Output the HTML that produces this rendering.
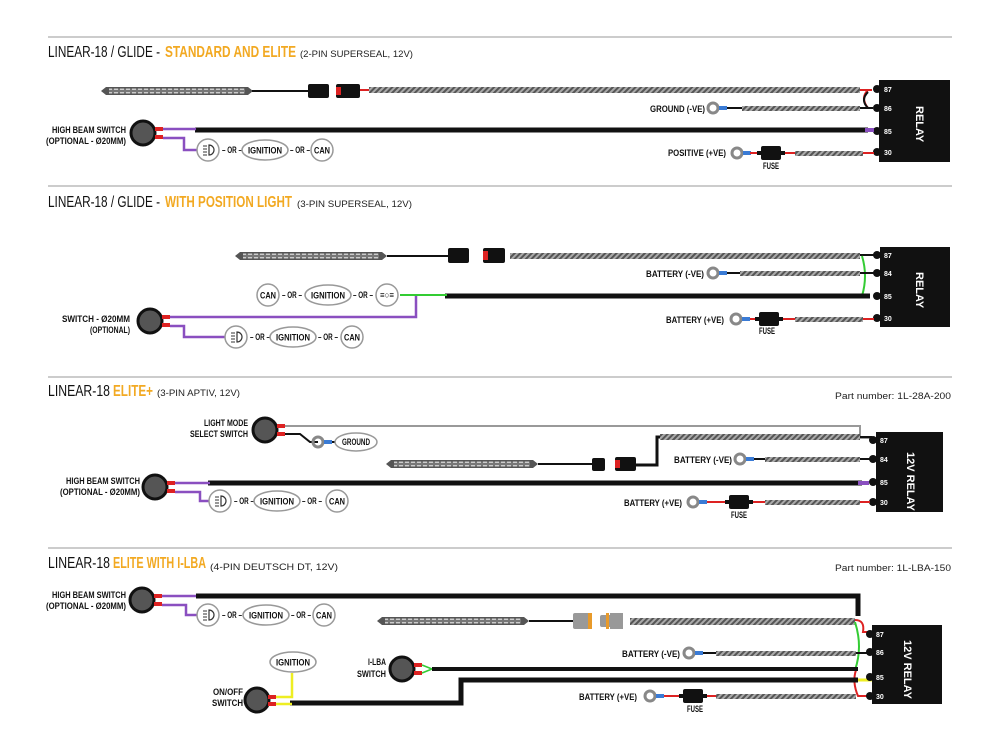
<!DOCTYPE html>
<html><head><meta charset="utf-8"><style>
html,body{margin:0;padding:0;background:#fff;}
svg{display:block;}
text{font-family:"Liberation Sans Narrow","Liberation Sans",sans-serif;}
.t{font-size:16px;fill:#111;}
.o{font-size:16px;fill:#f2a922;font-weight:bold;}
.s{font-size:9px;fill:#222;font-family:"Liberation Sans",sans-serif;}
.l{font-size:9px;fill:#111;font-weight:bold;}
.p{font-size:7px;fill:#fff;font-weight:bold;}
.r{font-size:11px;fill:#fff;font-weight:bold;}
</style></head><body>
<svg width="1000" height="750" viewBox="0 0 1000 750" xmlns="http://www.w3.org/2000/svg">
<defs>
<pattern id="h" width="4" height="4" patternUnits="userSpaceOnUse" patternTransform="rotate(45)">
<rect width="4" height="4" fill="#555"/><rect width="2" height="4" fill="#aaa"/></pattern>
<pattern id="led" width="6" height="4" patternUnits="userSpaceOnUse"><rect width="6" height="4" fill="#777"/><rect x="1" y="1" width="4" height="2" fill="#ccc"/></pattern>
<g id="ring"><circle r="5" fill="none" stroke="#888" stroke-width="3"/><rect x="6" y="-2" width="8" height="4" fill="#3a7bd5"/></g>
<g id="sw"><circle r="12" fill="#555" stroke="#111" stroke-width="3"/><rect x="12" y="-6" width="8" height="4" fill="#d22"/><rect x="12" y="2" width="8" height="4" fill="#d22"/></g>
<g id="fuse"><rect x="0" y="-7" width="20" height="14" fill="#111" rx="2"/><rect x="-4" y="-2" width="28" height="4" fill="#111"/></g>
<g id="lamp"><circle r="11" fill="#fff" stroke="#999" stroke-width="1.5"/><path d="M-5,-4h4M-5,-1h4M-5,2h4M-5,5h4" stroke="#333" stroke-width="1"/><path d="M1,-5a5,5 0 0,1 0,10z" fill="none" stroke="#333" stroke-width="1.2"/></g>
<g id="bar"><path d="M0,0 l5,-4 h142 l5,4 l-5,4 h-142z" fill="#555"/><rect x="8" y="-2.5" width="136" height="5" fill="url(#led)"/></g>
<g id="ign"><ellipse rx="23" ry="10" fill="#fff" stroke="#999" stroke-width="1.5"/><text class="l" x="-17" y="3.5" font-size="9" textLength="34" lengthAdjust="spacingAndGlyphs">IGNITION</text></g>
<g id="can"><circle r="11" fill="#fff" stroke="#999" stroke-width="1.5"/><text class="l" x="-8" y="3.5" font-size="9" textLength="16" lengthAdjust="spacingAndGlyphs">CAN</text></g>
<g id="or"><text class="l" x="0" y="3" font-size="7" textLength="20" lengthAdjust="spacingAndGlyphs">– OR –</text></g>
</defs>
<g stroke="#bbb" stroke-width="1.5"><line x1="48" y1="37" x2="952" y2="37"/><line x1="48" y1="186" x2="952" y2="186"/><line x1="48" y1="377" x2="952" y2="377"/><line x1="48" y1="548" x2="952" y2="548"/></g>

<!-- Section 1 -->
<text x="48" y="57" class="t" textLength="112" lengthAdjust="spacingAndGlyphs">LINEAR-18 / GLIDE -</text>
<text x="165" y="57" class="o" textLength="131" lengthAdjust="spacingAndGlyphs">STANDARD AND ELITE</text>
<text x="300" y="57" class="s" textLength="113" lengthAdjust="spacingAndGlyphs">(2-PIN SUPERSEAL, 12V)</text>
<use href="#bar" x="101" y="91"/>
<line x1="252" y1="91" x2="310" y2="91" stroke="#111" stroke-width="2"/>
<rect x="308" y="84" width="21" height="14" rx="2" fill="#111"/>
<rect x="336" y="84" width="24" height="14" rx="2" fill="#111"/><rect x="336" y="87" width="5" height="8" fill="#d22"/>
<line x1="360" y1="90" x2="370" y2="90" stroke="#d22" stroke-width="2"/>
<rect x="369" y="87" width="491" height="6" fill="url(#h)"/>
<path d="M860,90 h12 M868,90 q-8,8 0,18 M860,108 h12" stroke="#d22" stroke-width="2" fill="none"/>
<path d="M868,92 q-8,8 0,16" stroke="#111" stroke-width="2" fill="none"/>
<rect x="879" y="80" width="71" height="82" fill="#111"/>
<g fill="#111"><circle cx="877" cy="89" r="4"/><circle cx="877" cy="108" r="4"/><circle cx="877" cy="131" r="4"/><circle cx="877" cy="152" r="4"/></g>
<text class="p" x="884" y="92">87</text><text class="p" x="884" y="111">86</text><text class="p" x="884" y="134">85</text><text class="p" x="884" y="155">30</text>
<text class="r" transform="translate(916,106) rotate(90)">RELAY</text>
<text class="l" x="650" y="112" textLength="55" lengthAdjust="spacingAndGlyphs">GROUND (-VE)</text>
<use href="#ring" x="713" y="108"/>
<line x1="727" y1="108" x2="742" y2="108" stroke="#111" stroke-width="2"/>
<rect x="742" y="106" width="118" height="5" fill="url(#h)"/><line x1="860" y1="108" x2="873" y2="108" stroke="#111" stroke-width="2"/>
<line x1="195" y1="130" x2="868" y2="130" stroke="#111" stroke-width="5"/>
<line x1="865" y1="130" x2="874" y2="130" stroke="#8a4fc0" stroke-width="4"/>
<text class="l" x="52" y="133" textLength="74" lengthAdjust="spacingAndGlyphs">HIGH BEAM SWITCH</text>
<text class="l" x="46" y="144" textLength="80" lengthAdjust="spacingAndGlyphs">(OPTIONAL - Ø20MM)</text>
<use href="#sw" x="143" y="133"/>
<path d="M163,129 H196 M163,138 H184 V150 H197" stroke="#8a4fc0" stroke-width="2.5" fill="none"/>
<use href="#lamp" x="208" y="150"/>
<use href="#or" x="222" y="150"/>
<use href="#ign" x="265" y="150"/>
<use href="#or" x="290" y="150"/>
<use href="#can" x="322" y="150"/>
<text class="l" x="668" y="156" textLength="58" lengthAdjust="spacingAndGlyphs">POSITIVE (+VE)</text>
<use href="#ring" x="737" y="153"/>
<line x1="750" y1="153" x2="795" y2="153" stroke="#d22" stroke-width="2"/>
<use href="#fuse" x="761" y="153"/><text class="l" x="763" y="169" font-size="8" textLength="16" lengthAdjust="spacingAndGlyphs">FUSE</text>
<rect x="795" y="151" width="68" height="5" fill="url(#h)"/><line x1="863" y1="153" x2="874" y2="153" stroke="#d22" stroke-width="2"/>

<!-- Section 2 -->
<text x="48" y="207" class="t" textLength="112" lengthAdjust="spacingAndGlyphs">LINEAR-18 / GLIDE -</text>
<text x="165" y="207" class="o" textLength="127" lengthAdjust="spacingAndGlyphs">WITH POSITION LIGHT</text>
<text x="297" y="207" class="s" textLength="115" lengthAdjust="spacingAndGlyphs">(3-PIN SUPERSEAL, 12V)</text>
<use href="#bar" x="235" y="256"/>
<line x1="387" y1="256" x2="450" y2="256" stroke="#111" stroke-width="2"/>
<rect x="448" y="248" width="21" height="15" rx="2" fill="#111"/>
<rect x="483" y="248" width="22" height="15" rx="2" fill="#111"/><rect x="483" y="251" width="5" height="9" fill="#d22"/>
<rect x="510" y="253" width="350" height="6" fill="url(#h)"/>
<path d="M860,255 h14" stroke="#111" stroke-width="2"/>
<path d="M862,256 q6,20 0,40" stroke="#3c3" stroke-width="2" fill="none"/>
<rect x="880" y="247" width="70" height="80" fill="#111"/>
<g fill="#111"><circle cx="877" cy="255" r="4"/><circle cx="877" cy="273" r="4"/><circle cx="877" cy="296" r="4"/><circle cx="877" cy="318" r="4"/></g>
<text class="p" x="884" y="258">87</text><text class="p" x="884" y="276">84</text><text class="p" x="884" y="299">85</text><text class="p" x="884" y="321">30</text>
<text class="r" transform="translate(916,272) rotate(90)">RELAY</text>
<text class="l" x="646" y="277" textLength="58" lengthAdjust="spacingAndGlyphs">BATTERY (-VE)</text>
<use href="#ring" x="713" y="273"/>
<line x1="727" y1="273" x2="742" y2="273" stroke="#111" stroke-width="2"/>
<rect x="740" y="271" width="120" height="5" fill="url(#h)"/><line x1="860" y1="273" x2="874" y2="273" stroke="#111" stroke-width="2"/>
<line x1="445" y1="296" x2="870" y2="296" stroke="#111" stroke-width="5"/>
<line x1="400" y1="295" x2="447" y2="295" stroke="#3c3" stroke-width="2"/>
<use href="#can" x="268" y="295"/>
<use href="#or" x="282" y="295"/>
<use href="#ign" x="328" y="295"/>
<use href="#or" x="353" y="295"/>
<circle cx="387" cy="295" r="11" fill="#fff" stroke="#999" stroke-width="1.5"/><text class="l" x="380" y="298" font-size="7" textLength="14" lengthAdjust="spacingAndGlyphs">≡○≡</text>
<text class="l" x="62" y="322" textLength="68" lengthAdjust="spacingAndGlyphs">SWITCH - Ø20MM</text>
<text class="l" x="90" y="333" textLength="40" lengthAdjust="spacingAndGlyphs">(OPTIONAL)</text>
<use href="#sw" x="150" y="321"/>
<path d="M170,317 H416 V296 M170,326 H184 V337 H225" stroke="#8a4fc0" stroke-width="2.5" fill="none"/>
<use href="#lamp" x="236" y="337"/>
<use href="#or" x="250" y="337"/>
<use href="#ign" x="293" y="337"/>
<use href="#or" x="318" y="337"/>
<use href="#can" x="352" y="337"/>
<text class="l" x="666" y="323" textLength="58" lengthAdjust="spacingAndGlyphs">BATTERY (+VE)</text>
<use href="#ring" x="736" y="319"/>
<line x1="750" y1="319" x2="795" y2="319" stroke="#d22" stroke-width="2"/>
<use href="#fuse" x="759" y="319"/><text class="l" x="759" y="334" font-size="8" textLength="16" lengthAdjust="spacingAndGlyphs">FUSE</text>
<rect x="795" y="317" width="68" height="5" fill="url(#h)"/><line x1="863" y1="319" x2="874" y2="319" stroke="#d22" stroke-width="2"/>

<!-- Section 3 -->
<text x="48" y="396" class="t" textLength="62" lengthAdjust="spacingAndGlyphs">LINEAR-18</text>
<text x="113" y="396" class="o" textLength="40" lengthAdjust="spacingAndGlyphs">ELITE+</text>
<text x="157" y="396" class="s" textLength="83" lengthAdjust="spacingAndGlyphs">(3-PIN APTIV, 12V)</text>
<text x="951" y="399" class="s" text-anchor="end" textLength="116" lengthAdjust="spacingAndGlyphs">Part number: 1L-28A-200</text>
<text class="l" x="204" y="426" textLength="44" lengthAdjust="spacingAndGlyphs">LIGHT MODE</text>
<text class="l" x="190" y="437" textLength="58" lengthAdjust="spacingAndGlyphs">SELECT SWITCH</text>
<use href="#sw" x="265" y="430"/>
<path d="M285,426 H860 V438 H872" stroke="#999" stroke-width="2" fill="none"/>
<path d="M285,434 H300 L310,442 H318" stroke="#111" stroke-width="2" fill="none"/>
<use href="#ring" x="318" y="442"/>
<line x1="332" y1="442" x2="336" y2="442" stroke="#111" stroke-width="2"/>
<ellipse cx="356" cy="442" rx="21" ry="9" fill="#fff" stroke="#999" stroke-width="1.5"/><text class="l" x="342" y="445" font-size="8" textLength="28" lengthAdjust="spacingAndGlyphs">GROUND</text>
<path d="M636,465 H657 V437 H662" stroke="#111" stroke-width="3" fill="none"/>
<rect x="660" y="434" width="200" height="6" fill="url(#h)"/>
<use href="#bar" x="386" y="464"/>
<line x1="538" y1="464" x2="594" y2="464" stroke="#111" stroke-width="2"/>
<rect x="592" y="458" width="13" height="13" rx="2" fill="#111"/>
<rect x="615" y="457" width="21" height="14" rx="2" fill="#111"/><rect x="615" y="460" width="5" height="8" fill="#d22"/>
<path d="M860,437 h12 M860,459 h12" stroke="#111" stroke-width="2"/>
<rect x="876" y="432" width="67" height="80" fill="#111"/>
<g fill="#111"><circle cx="873" cy="440" r="4"/><circle cx="873" cy="459" r="4"/><circle cx="873" cy="482" r="4"/><circle cx="873" cy="502" r="4"/></g>
<text class="p" x="880" y="443">87</text><text class="p" x="880" y="462">84</text><text class="p" x="880" y="485">85</text><text class="p" x="880" y="505">30</text>
<text class="r" font-size="9" transform="translate(907,452) rotate(90)">12V RELAY</text>
<text class="l" x="674" y="463" textLength="58" lengthAdjust="spacingAndGlyphs">BATTERY (-VE)</text>
<use href="#ring" x="740" y="459"/>
<line x1="754" y1="459" x2="765" y2="459" stroke="#111" stroke-width="2"/>
<rect x="765" y="457" width="95" height="5" fill="url(#h)"/>
<line x1="208" y1="483" x2="862" y2="483" stroke="#111" stroke-width="5"/>
<line x1="858" y1="483" x2="869" y2="483" stroke="#8a4fc0" stroke-width="4"/>
<text class="l" x="66" y="484" textLength="74" lengthAdjust="spacingAndGlyphs">HIGH BEAM SWITCH</text>
<text class="l" x="60" y="495" textLength="80" lengthAdjust="spacingAndGlyphs">(OPTIONAL - Ø20MM)</text>
<use href="#sw" x="155" y="487"/>
<path d="M175,483 H210 M175,492 H200 V501 H209" stroke="#8a4fc0" stroke-width="2.5" fill="none"/>
<use href="#lamp" x="220" y="501"/>
<use href="#or" x="234" y="501"/>
<use href="#ign" x="277" y="501"/>
<use href="#or" x="302" y="501"/>
<use href="#can" x="337" y="501"/>
<text class="l" x="624" y="506" textLength="58" lengthAdjust="spacingAndGlyphs">BATTERY (+VE)</text>
<use href="#ring" x="693" y="502"/>
<line x1="707" y1="502" x2="765" y2="502" stroke="#d22" stroke-width="2"/>
<use href="#fuse" x="729" y="502"/><text class="l" x="731" y="518" font-size="8" textLength="16" lengthAdjust="spacingAndGlyphs">FUSE</text>
<rect x="765" y="500" width="95" height="5" fill="url(#h)"/><line x1="860" y1="502" x2="870" y2="502" stroke="#d22" stroke-width="2"/>

<!-- Section 4 -->
<text x="48" y="568" class="t" textLength="62" lengthAdjust="spacingAndGlyphs">LINEAR-18</text>
<text x="113" y="568" class="o" textLength="93" lengthAdjust="spacingAndGlyphs">ELITE WITH I-LBA</text>
<text x="210" y="570" class="s" textLength="128" lengthAdjust="spacingAndGlyphs">(4-PIN DEUTSCH DT, 12V)</text>
<text x="951" y="571" class="s" text-anchor="end" textLength="116" lengthAdjust="spacingAndGlyphs">Part number: 1L-LBA-150</text>
<text class="l" x="52" y="598" textLength="74" lengthAdjust="spacingAndGlyphs">HIGH BEAM SWITCH</text>
<text class="l" x="46" y="609" textLength="80" lengthAdjust="spacingAndGlyphs">(OPTIONAL - Ø20MM)</text>
<use href="#sw" x="142" y="600"/>
<path d="M162,596 H196 M162,605 H186 V615 H197" stroke="#8a4fc0" stroke-width="2.5" fill="none"/>
<path d="M196,596 H858 V616" stroke="#111" stroke-width="5" fill="none"/>
<use href="#lamp" x="208" y="615"/>
<use href="#or" x="222" y="615"/>
<use href="#ign" x="266" y="615"/>
<use href="#or" x="291" y="615"/>
<use href="#can" x="324" y="615"/>
<use href="#bar" x="377" y="621"/>
<line x1="529" y1="621" x2="575" y2="621" stroke="#111" stroke-width="2"/>
<rect x="573" y="613" width="18" height="16" rx="2" fill="#999"/><rect x="588" y="613" width="4" height="16" fill="#e89a2a"/>
<rect x="600" y="615" width="14" height="12" rx="2" fill="#999"/><rect x="610" y="613" width="13" height="16" fill="#999"/><rect x="606" y="613" width="3" height="16" fill="#e89a2a"/>
<rect x="630" y="618" width="225" height="7" fill="url(#h)"/>
<path d="M855,620 q10,0 8,12 h10" stroke="#d22" stroke-width="2" fill="none"/>
<path d="M855,622 q8,25 0,48" stroke="#3c3" stroke-width="2" fill="none"/>
<path d="M855,653 h18" stroke="#111" stroke-width="2"/>
<path d="M855,680 h18" stroke="#ee2" stroke-width="3"/>
<path d="M856,670 q-4,12 2,26 h15" stroke="#d22" stroke-width="2" fill="none"/>
<rect x="872" y="625" width="70" height="79" fill="#111"/>
<g fill="#111"><circle cx="870" cy="634" r="4"/><circle cx="870" cy="652" r="4"/><circle cx="870" cy="677" r="4"/><circle cx="870" cy="696" r="4"/></g>
<text class="p" x="876" y="637">87</text><text class="p" x="876" y="655">86</text><text class="p" x="876" y="680">85</text><text class="p" x="876" y="699">30</text>
<text class="r" transform="translate(904,640) rotate(90)">12V RELAY</text>
<text class="l" x="622" y="657" textLength="58" lengthAdjust="spacingAndGlyphs">BATTERY (-VE)</text>
<use href="#ring" x="689" y="653"/>
<line x1="703" y1="653" x2="716" y2="653" stroke="#111" stroke-width="2"/>
<rect x="716" y="651" width="140" height="5" fill="url(#h)"/>
<text class="l" x="368" y="665" textLength="18" lengthAdjust="spacingAndGlyphs">I-LBA</text>
<text class="l" x="357" y="677" textLength="29" lengthAdjust="spacingAndGlyphs">SWITCH</text>
<use href="#sw" x="402" y="669"/>
<path d="M422,665 L432,669 M422,673 L432,669" stroke="#3c3" stroke-width="1.5"/>
<line x1="432" y1="669" x2="858" y2="669" stroke="#111" stroke-width="4"/>
<path d="M290,703 H461 V680 H858" stroke="#111" stroke-width="5" fill="none"/>
<use href="#ign" x="293" y="662"/>
<text class="l" x="213" y="695" textLength="30" lengthAdjust="spacingAndGlyphs">ON/OFF</text>
<text class="l" x="212" y="706" textLength="31" lengthAdjust="spacingAndGlyphs">SWITCH</text>
<circle cx="257" cy="700" r="12" fill="#555" stroke="#111" stroke-width="3"/>
<rect x="268" y="695" width="8" height="4" fill="#d22"/><rect x="268" y="702" width="8" height="4" fill="#d22"/>
<path d="M276,697 H292 V673 M276,704 H292" stroke="#ee2" stroke-width="2.5" fill="none"/>
<text class="l" x="579" y="700" textLength="58" lengthAdjust="spacingAndGlyphs">BATTERY (+VE)</text>
<use href="#ring" x="650" y="696"/>
<line x1="664" y1="696" x2="716" y2="696" stroke="#d22" stroke-width="2"/>
<use href="#fuse" x="683" y="696"/><text class="l" x="687" y="712" font-size="8" textLength="16" lengthAdjust="spacingAndGlyphs">FUSE</text>
<rect x="716" y="694" width="140" height="5" fill="url(#h)"/>
</svg>
</body></html>
